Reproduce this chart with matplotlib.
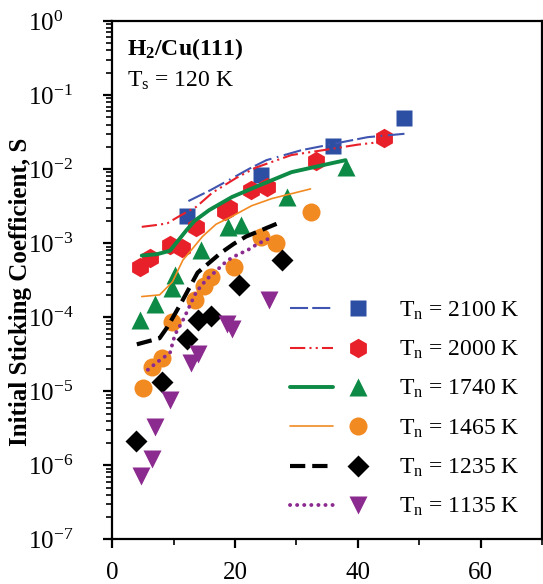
import numpy as np
import matplotlib
matplotlib.use("Agg")
import matplotlib.pyplot as plt
from matplotlib.legend_handler import HandlerTuple
from matplotlib.lines import Line2D
from matplotlib.ticker import MultipleLocator, LogLocator, LogFormatterSciNotation

plt.rcParams['font.family'] = ['Liberation Serif', 'DejaVu Serif']
plt.rcParams['mathtext.fontset'] = 'custom'
plt.rcParams['mathtext.rm'] = 'Liberation Serif'
plt.rcParams['mathtext.it'] = 'Liberation Serif:italic'
plt.rcParams['mathtext.bf'] = 'Liberation Serif:bold'
plt.rcParams['axes.unicode_minus'] = False
plt.rcParams['lines.scale_dashes'] = False

# measured points (x = energy-ish axis, S = sticking coefficient)
x_2100 = [12.1, 24.2, 36.0, 47.6]
s_2100 = [2.3e-3, 8.3e-3, 2.05e-2, 4.9e-2]
x_2000 = [4.5, 6.1, 9.4, 11.3, 13.7, 18.3, 19.0, 22.6, 25.2, 33.2, 44.2]
s_2000 = [4.8e-4, 6.3e-4, 9.5e-4, 8.7e-4, 1.66e-3, 2.7e-3, 3.0e-3, 5.2e-3, 5.7e-3, 1.3e-2, 2.6e-2]
x_1740 = [4.5, 6.9, 9.7, 10.2, 14.5, 18.9, 21.0, 28.4, 38.1]
s_1740 = [9.3e-5, 1.5e-4, 2.5e-4, 3.7e-4, 8.1e-4, 1.66e-3, 1.75e-3, 4.2e-3, 1.07e-2]
x_1465 = [5.0, 6.5, 8.1, 9.8, 13.4, 15.0, 16.1, 19.8, 24.2, 26.6, 32.3]
s_1465 = [1.1e-5, 2.1e-5, 2.8e-5, 8.7e-5, 1.7e-4, 2.6e-4, 3.5e-4, 4.8e-4, 1.2e-3, 1.0e-3, 2.6e-3]
x_1235 = [3.9, 8.1, 12.1, 13.9, 16.1, 20.6, 27.6]
s_1235 = [2.1e-6, 1.35e-5, 5.0e-5, 9.3e-5, 1.05e-4, 2.7e-4, 5.9e-4]
x_1135 = [4.7, 6.5, 6.9, 9.4, 12.8, 13.9, 18.7, 19.5, 25.5]
s_1135 = [7.2e-7, 1.2e-6, 3.3e-6, 7.7e-6, 2.4e-5, 3.2e-5, 8.2e-5, 7.0e-5, 1.7e-4]

# model curves
xf_2100 = [12.4, 16.0, 18.7, 22.4, 25.1, 30.8, 37.3, 41.6, 47.6]
sf_2100 = [3.7e-3, 5.2e-3, 6.9e-3, 1.02e-2, 1.32e-2, 1.8e-2, 2.3e-2, 2.7e-2, 3.0e-2]
xf_2000 = [4.8, 7.7, 9.0, 10.7, 13.7, 16.3, 20.2, 23.4, 29.2, 34.7, 40.0, 45.2]
sf_2000 = [1.66e-3, 1.78e-3, 1.86e-3, 2.26e-3, 3.1e-3, 4.8e-3, 7.6e-3, 1.05e-2, 1.55e-2, 1.82e-2, 2.14e-2, 2.4e-2]
xf_1740 = [4.8, 7.3, 9.4, 10.6, 12.1, 13.4, 15.8, 19.5, 23.9, 29.2, 34.7, 38.0]
sf_1740 = [6.8e-4, 7.1e-4, 7.9e-4, 1.05e-3, 1.5e-3, 2.0e-3, 2.8e-3, 4.2e-3, 6.0e-3, 9.1e-3, 1.15e-2, 1.32e-2]
xf_1465 = [4.8, 7.7, 9.8, 11.5, 13.1, 14.7, 16.9, 19.5, 22.7, 26.0, 32.3]
sf_1465 = [1.9e-4, 2.0e-4, 3.0e-4, 5.9e-4, 8.5e-4, 1.23e-3, 1.8e-3, 2.3e-3, 3.2e-3, 4.0e-3, 5.4e-3]
xf_1235 = [4.0, 7.7, 9.0, 11.3, 13.9, 17.7, 19.8, 21.8, 27.6]
sf_1235 = [4.3e-5, 5.2e-5, 7.4e-5, 1.6e-4, 4.0e-4, 7.4e-4, 9.8e-4, 1.23e-3, 1.95e-3]
xf_1135 = [5.8, 7.4, 9.4, 10.2, 11.3, 12.1, 12.9, 13.7, 15.3, 16.9, 18.7, 20.3, 22.1, 23.7, 25.5]
sf_1135 = [1.95e-5, 2.5e-5, 3.3e-5, 5.8e-5, 8.4e-5, 1.15e-4, 1.6e-4, 2.2e-4, 3.2e-4,
           4.2e-4, 5.8e-4, 6.9e-4, 8.1e-4, 9.8e-4, 1.15e-3]

y_ticks = [1e-7, 1e-6, 1e-5, 1e-4, 1e-3, 1e-2, 1e-1, 1e0]
x_ticks = [0, 20, 40, 60]

labels = ['T$_{\\mathregular{n}}$ = 2100 K', 'T$_{\\mathregular{n}}$ = 2000 K',
          'T$_{\\mathregular{n}}$ = 1740 K', 'T$_{\\mathregular{n}}$ = 1465 K',
          'T$_{\\mathregular{n}}$ = 1235 K', 'T$_{\\mathregular{n}}$ = 1135 K']

blue = '#2c4fa3'
red = '#e8202a'
green = '#0d8a45'
orange = '#f28a22'
purple = '#8b2a8f'

fig = plt.figure(figsize=(5.43, 5.84), dpi=100)
ax = fig.add_axes([0.2068, 0.0765, 0.998 - 0.2068, 0.964 - 0.0765])

series = [
    (x_2100, s_2100, 's', blue, 11.5, xf_2100, sf_2100, '#3f55b0', 1.5, (0, (13, 3, 13, 4, 1.2, 4)), 'butt'),
    (x_2000, s_2000, 'h', red, 14, xf_2000, sf_2000, red, 1.5, (0, (11, 3, 1.5, 3, 1.5, 3)), 'butt'),
    (x_1740, s_1740, '^', green, 13.5, xf_1740, sf_1740, green, 2.8, '-', 'round'),
    (x_1465, s_1465, 'o', orange, 13, xf_1465, sf_1465, orange, 1.2, '-', 'round'),
    (x_1235, s_1235, 'D', 'black', 11, xf_1235, sf_1235, 'black', 3.0, (0, (11, 5)), 'butt'),
    (x_1135, s_1135, 'v', purple, 13.5, xf_1135, sf_1135, purple, 2.8, (0, (0.1, 5.0)), 'round'),
]

handles = []
for xs, ss, mk, col, ms, xf, sf, lcol, lw, ls, cap in series:
    ax.plot(xs, ss, linestyle='none', marker=mk, color=col, markersize=ms, mec='none', zorder=2)
    ax.plot(xf, sf, color=lcol, lw=lw, linestyle=ls, dash_capstyle=cap, solid_capstyle=cap, zorder=3)
    hl = Line2D([], [], color=lcol, lw=lw, linestyle=ls, dash_capstyle=cap, solid_capstyle=cap)
    hm = Line2D([], [], linestyle='none', marker=mk, color=col, markersize=ms, mec='none')
    handles.append((hl, hm))

ax.set_yscale('log')
ax.set_xlim(0, 70)
ax.set_ylim(1e-7, 1)
ax.set_xticks(x_ticks)
ax.xaxis.set_minor_locator(MultipleLocator(10))
ax.set_yticks(y_ticks)
ax.yaxis.set_minor_locator(LogLocator(base=10, subs=np.arange(2, 10), numticks=20))
ax.yaxis.set_major_formatter(LogFormatterSciNotation())

for side in ['top', 'right', 'left', 'bottom']:
    ax.spines[side].set_linewidth(1.6)
ax.tick_params(axis='both', which='major', direction='out', length=6.5, width=1.6, labelsize=18)
ax.tick_params(axis='both', which='minor', direction='out', length=4, width=1.2)
ax.tick_params(axis='y', which='major', pad=54)
ax.tick_params(axis='x', which='major', pad=10)
for lab in ax.get_yticklabels():
    lab.set_horizontalalignment('left')

ax.set_ylabel('Initial Sticking Coefficient, S', fontsize=18, fontweight='bold')
ax.yaxis.set_label_coords(-0.186, 0.478)

ax.text(0.035, 0.945, 'H$_\\mathbf{2}$/Cu(111)', transform=ax.transAxes, fontsize=17,
        fontweight='bold', va='center', ha='left')
ax.text(0.035, 0.885, 'T$_{\\mathregular{s}}$ = 120 K', transform=ax.transAxes, fontsize=17,
        va='center', ha='left')

leg = ax.legend(handles, labels, handler_map={tuple: HandlerTuple(ndivide=None, pad=0.2)},
                loc='center left', bbox_to_anchor=(290 / 543, 1 - 409 / 584),
                bbox_transform=fig.transFigure, frameon=False, fontsize=17,
                handlelength=3.8, handletextpad=0.8, labelspacing=0.72,
                borderpad=0, borderaxespad=0)

fig.savefig('out.png', dpi=100)
